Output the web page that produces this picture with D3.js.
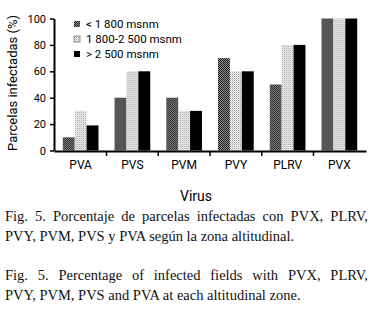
<!DOCTYPE html>
<html lang="es">
<head>
<meta charset="UTF-8">
<script src="https://d3js.org/d3.v7.min.js"></script>
<style>
  body { margin: 0; background: #fff; }
  svg { display: block; }
  .sans { font-family: 'Liberation Sans Narrow', 'Roboto', sans-serif; }
  .serif { font-family: 'Liberation Serif', 'Times New Roman', serif; }
</style>
</head>
<body>
<div id="chart"></div>
<script>
// Data
const categories = ["PVA", "PVS", "PVM", "PVY", "PLRV", "PVX"];
const seriesNames = ["< 1 800 msnm", "1 800-2 500 msnm", "> 2 500 msnm"];
const lowZone = [10, 40, 40, 70, 50, 100];
const midZone = [30, 60, 30, 60, 80, 100];
const highZone = [19, 60, 30, 60, 80, 100];
const yTicks = [0, 20, 40, 60, 80, 100];
const captionLines = [
  "Fig. 5. Porcentaje de parcelas infectadas con PVX, PLRV,",
  "PVY, PVM, PVS y PVA según la zona altitudinal.",
  "Fig. 5. Percentage of infected fields with PVX, PLRV,",
  "PVY, PVM, PVS and PVA at each altitudinal zone."
];

const seriesValues = [lowZone, midZone, highZone];
const rows = categories.map((c, i) => ({
  cat: c,
  vals: seriesNames.map((s, j) => ({ key: s, idx: j, value: seriesValues[j][i] }))
}));

const width = 384, height = 312;
const svg = d3.select("#chart").append("svg")
  .attr("width", width)
  .attr("height", height);

svg.append("rect").attr("width", width).attr("height", height).attr("fill", "#fff");

// patterns
const defs = svg.append("defs");
const p1 = defs.append("pattern").attr("id", "pat0")
  .attr("width", 2).attr("height", 2).attr("patternUnits", "userSpaceOnUse");
p1.append("rect").attr("width", 2).attr("height", 2).attr("fill", "#9a9a9a");
p1.append("rect").attr("width", 1).attr("height", 1).attr("fill", "#111");
p1.append("rect").attr("x", 1).attr("y", 1).attr("width", 1).attr("height", 1).attr("fill", "#111");

const p2 = defs.append("pattern").attr("id", "pat1")
  .attr("width", 2).attr("height", 2).attr("patternUnits", "userSpaceOnUse");
p2.append("rect").attr("width", 2).attr("height", 2).attr("fill", "#f4f4f4");
p2.append("rect").attr("width", 1).attr("height", 1).attr("fill", "#a0a0a0");
p2.append("rect").attr("x", 1).attr("y", 1).attr("width", 1).attr("height", 1).attr("fill", "#d0d0d0");

const fills = ["url(#pat0)", "url(#pat1)", "#000"];

// scales
const x = d3.scaleBand()
  .domain(categories)
  .range([54, 366])
  .paddingInner(0.31)
  .paddingOuter(0.17);

const x1 = d3.scaleBand()
  .domain(seriesNames)
  .range([0, x.bandwidth()]);

const y = d3.scaleLinear()
  .domain([0, 100])
  .range([150.5, 18.5]);

// bars
svg.append("g")
  .selectAll("g")
  .data(rows)
  .join("g")
  .attr("transform", d => `translate(${x(d.cat)},0)`)
  .selectAll("rect")
  .data(d => d.vals)
  .join("rect")
  .attr("x", d => x1(d.key))
  .attr("y", d => y(d.value))
  .attr("width", x1.bandwidth())
  .attr("height", d => y(0) - y(d.value))
  .attr("fill", d => fills[d.idx]);

// y axis
const yAxis = svg.append("g")
  .attr("class", "sans")
  .attr("transform", "translate(54,0)")
  .call(d3.axisLeft(y).tickValues(yTicks).tickSize(4).tickSizeOuter(0).tickPadding(4));
yAxis.select(".domain").attr("stroke-width", 2);
yAxis.selectAll(".tick line").attr("stroke-width", 1.5);
yAxis.selectAll("text").attr("font-size", 11).attr("fill", "#000");

// x axis
const xAxis = svg.append("g")
  .attr("class", "sans")
  .attr("transform", "translate(0,151)")
  .call(d3.axisBottom(x).tickSize(0).tickPadding(9).tickSizeOuter(0));
xAxis.select(".domain").attr("stroke-width", 2.2);
xAxis.selectAll("text").attr("font-size", 12).attr("fill", "#000");

// tick marks between groups
const gap = x.step() * x.paddingInner();
xAxis.selectAll("line.sep")
  .data(categories.slice(1))
  .join("line")
  .attr("class", "sep")
  .attr("x1", d => x(d) - gap / 2)
  .attr("x2", d => x(d) - gap / 2)
  .attr("y1", 0)
  .attr("y2", 5)
  .attr("stroke", "#000")
  .attr("stroke-width", 1.5);

// axis titles
svg.append("text")
  .attr("class", "sans")
  .attr("transform", "translate(17,83) rotate(-90)")
  .attr("text-anchor", "middle")
  .attr("font-size", 13)
  .text("Parcelas infectadas (%)");

svg.append("text")
  .attr("class", "sans")
  .attr("x", 196)
  .attr("y", 201)
  .attr("text-anchor", "middle")
  .attr("font-size", 14)
  .text("Virus");

// legend
const legend = svg.append("g").attr("class", "sans")
  .attr("transform", "translate(74,24)");
const li = legend.selectAll("g")
  .data(seriesNames)
  .join("g")
  .attr("transform", (d, i) => `translate(0,${i * 15})`);
li.append("rect")
  .attr("x", 0).attr("y", -3)
  .attr("width", 6).attr("height", 6)
  .attr("fill", (d, i) => fills[i])
  .attr("stroke", (d, i) => i === 1 ? "#777" : "none")
  .attr("stroke-width", 0.8);
li.append("text")
  .attr("x", 12)
  .attr("y", 4)
  .attr("font-size", 11.5)
  .text(d => d);

// caption
const capY = [221, 241, 280, 300];
const capLines = svg.append("g").attr("class", "serif")
  .selectAll("text")
  .data(captionLines)
  .join("text")
  .attr("x", 5)
  .attr("y", (d, i) => capY[i])
  .attr("font-size", 14.5)
  .attr("fill", "#111")
  .text(d => d);

// justify first line of each paragraph
capLines.each(function (d, i) {
  if (i % 2 !== 0) return;
  const natural = this.getComputedTextLength();
  const spaces = d.split(" ").length - 1;
  const extra = (363 - natural) / spaces;
  d3.select(this).attr("word-spacing", extra);
});
</script>
</body>
</html>
